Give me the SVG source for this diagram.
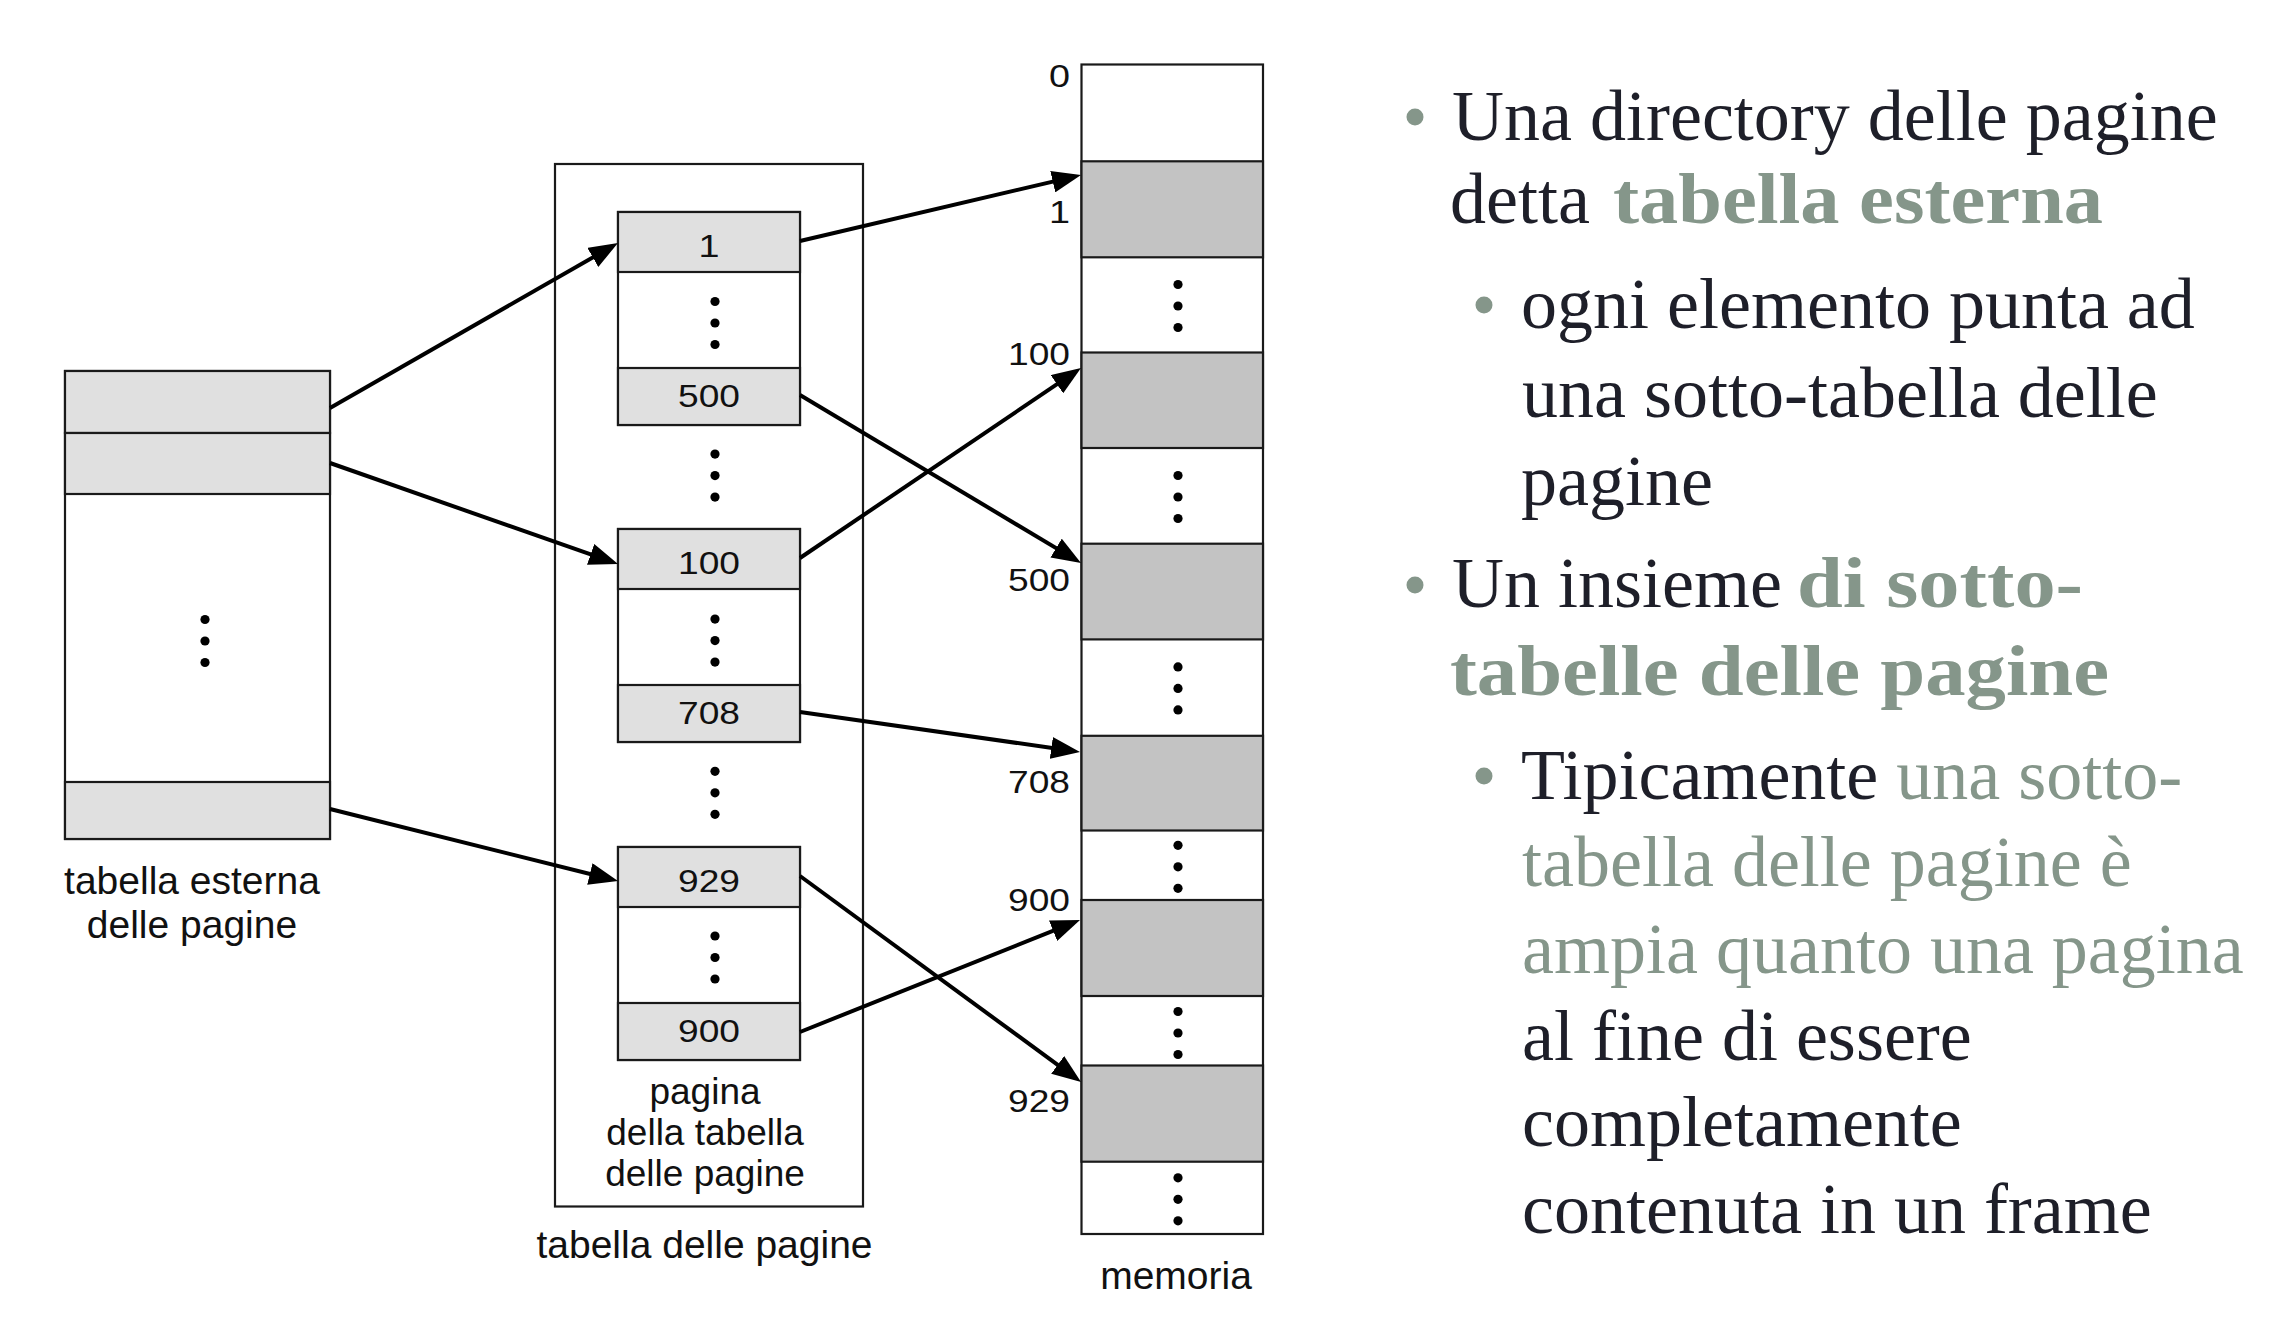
<svg xmlns="http://www.w3.org/2000/svg" xmlns:xlink="http://www.w3.org/1999/xlink" width="2294" height="1338" viewBox="0 0 2294 1338">
<style>
.box{fill:#ffffff;stroke:#1a1a1a;stroke-width:2.2}
.lt{fill:#e0e0e0;stroke:#1a1a1a;stroke-width:2.2}
.mg{fill:#c3c3c3;stroke:#1a1a1a;stroke-width:2.2}
.frame{fill:none;stroke:#1a1a1a;stroke-width:2.2}
.lbl{font-family:"Liberation Sans",Arial,Helvetica,sans-serif;font-size:39px;fill:#111}
.ilbl{font-family:"Liberation Sans",Arial,Helvetica,sans-serif;font-size:37px;fill:#111}
.num{font-family:"Liberation Sans",Arial,Helvetica,sans-serif;font-size:31px;fill:#111}
.conn{stroke:#000;stroke-width:4;fill:none;marker-end:url(#ah)}
.body{font-family:"Liberation Serif","Times New Roman",serif;font-size:72px;fill:#1e1f29}
.hl{fill:#85968a}
.b{font-weight:bold}
.bul{fill:#85968a}
</style>
<defs>
<marker id="ah" markerUnits="userSpaceOnUse" markerWidth="29" markerHeight="22" refX="22" refY="11" orient="auto">
<path d="M0,0 L29,11 L0,22 z" fill="#000"/>
</marker>
<g id="vdots">
<circle cx="0" cy="-21.5" r="4.6" fill="#000"/>
<circle cx="0" cy="0" r="4.6" fill="#000"/>
<circle cx="0" cy="21.5" r="4.6" fill="#000"/>
</g>
</defs>
<rect x="0" y="0" width="2294" height="1338" fill="#ffffff"/>

<g id="outer-table">
<rect class="box" x="65" y="371" width="265" height="468"/>
<rect class="lt" x="65" y="371" width="265" height="62"/>
<rect class="lt" x="65" y="433" width="265" height="61"/>
<rect class="lt" x="65" y="782" width="265" height="57"/>
<use xlink:href="#vdots" x="205" y="641"/>
<text class="lbl" x="192" y="894" text-anchor="middle">tabella esterna</text>
<text class="lbl" x="192" y="938" text-anchor="middle">delle pagine</text>
</g>

<g id="page-table">
<rect class="frame" x="555" y="164" width="308" height="1042.5"/>
<use xlink:href="#vdots" x="715" y="475.6"/>
<use xlink:href="#vdots" x="715" y="792.8"/>
<text class="ilbl" x="705" y="1104" text-anchor="middle">pagina</text>
<text class="ilbl" x="705" y="1145" text-anchor="middle">della tabella</text>
<text class="ilbl" x="705" y="1186" text-anchor="middle">delle pagine</text>
<text class="lbl" x="704.5" y="1258" text-anchor="middle">tabella delle pagine</text>
</g>

<g id="pt-a">
<rect class="box" x="618" y="212" width="182" height="213"/>
<rect class="lt" x="618" y="212" width="182" height="60"/>
<rect class="lt" x="618" y="368" width="182" height="57"/>
<text class="num" x="709" y="257" text-anchor="middle" textLength="21" lengthAdjust="spacingAndGlyphs">1</text>
<text class="num" x="709" y="407" text-anchor="middle" textLength="62" lengthAdjust="spacingAndGlyphs">500</text>
<use xlink:href="#vdots" x="715" y="323"/>
</g>

<g id="pt-b">
<rect class="box" x="618" y="529" width="182" height="213"/>
<rect class="lt" x="618" y="529" width="182" height="60"/>
<rect class="lt" x="618" y="685" width="182" height="57"/>
<text class="num" x="709" y="574" text-anchor="middle" textLength="62" lengthAdjust="spacingAndGlyphs">100</text>
<text class="num" x="709" y="724" text-anchor="middle" textLength="62" lengthAdjust="spacingAndGlyphs">708</text>
<use xlink:href="#vdots" x="715" y="640.6"/>
</g>

<g id="pt-c">
<rect class="box" x="618" y="847" width="182" height="213"/>
<rect class="lt" x="618" y="847" width="182" height="60"/>
<rect class="lt" x="618" y="1003" width="182" height="57"/>
<text class="num" x="709" y="892" text-anchor="middle" textLength="62" lengthAdjust="spacingAndGlyphs">929</text>
<text class="num" x="709" y="1042" text-anchor="middle" textLength="62" lengthAdjust="spacingAndGlyphs">900</text>
<use xlink:href="#vdots" x="715" y="957.5"/>
</g>

<g id="memory">
<rect class="box" x="1081.5" y="64.5" width="181.5" height="1169.5"/>
<rect class="mg" x="1081.5" y="161.3" width="181.5" height="96"/>
<rect class="mg" x="1081.5" y="352.5" width="181.5" height="95.5"/>
<rect class="mg" x="1081.5" y="543.7" width="181.5" height="95.7"/>
<rect class="mg" x="1081.5" y="735.8" width="181.5" height="94.7"/>
<rect class="mg" x="1081.5" y="900" width="181.5" height="96"/>
<rect class="mg" x="1081.5" y="1065.5" width="181.5" height="96.2"/>
<use xlink:href="#vdots" x="1178" y="306"/>
<use xlink:href="#vdots" x="1178" y="497"/>
<use xlink:href="#vdots" x="1178" y="688.4"/>
<use xlink:href="#vdots" x="1178" y="866.8"/>
<use xlink:href="#vdots" x="1178" y="1033"/>
<use xlink:href="#vdots" x="1178" y="1199.3"/>
<text class="num" x="1070" y="86.7" text-anchor="end" textLength="21" lengthAdjust="spacingAndGlyphs">0</text>
<text class="num" x="1070" y="222.7" text-anchor="end" textLength="21" lengthAdjust="spacingAndGlyphs">1</text>
<text class="num" x="1070" y="365" text-anchor="end" textLength="62" lengthAdjust="spacingAndGlyphs">100</text>
<text class="num" x="1070" y="591" text-anchor="end" textLength="62" lengthAdjust="spacingAndGlyphs">500</text>
<text class="num" x="1070" y="793" text-anchor="end" textLength="62" lengthAdjust="spacingAndGlyphs">708</text>
<text class="num" x="1070" y="911" text-anchor="end" textLength="62" lengthAdjust="spacingAndGlyphs">900</text>
<text class="num" x="1070" y="1112" text-anchor="end" textLength="62" lengthAdjust="spacingAndGlyphs">929</text>
<text class="lbl" x="1176" y="1289" text-anchor="middle">memoria</text>
</g>

<g id="connectors">
<line class="conn" x1="330" y1="408" x2="611.9" y2="246.5"/>
<line class="conn" x1="330" y1="463" x2="611.4" y2="561.7"/>
<line class="conn" x1="330" y1="809" x2="611.2" y2="879.3"/>
<line class="conn" x1="800" y1="241" x2="1074.2" y2="176.6"/>
<line class="conn" x1="800" y1="395" x2="1075" y2="559.4"/>
<line class="conn" x1="800" y1="558" x2="1075.2" y2="371.9"/>
<line class="conn" x1="800" y1="712" x2="1073.1" y2="751"/>
<line class="conn" x1="800" y1="876" x2="1075.4" y2="1077.9"/>
<line class="conn" x1="800" y1="1032" x2="1073.5" y2="922.6"/>
</g>

<g id="bullet-text">
<circle class="bul" cx="1415" cy="117" r="8.5"/>
<circle class="bul" cx="1484" cy="305" r="8.5"/>
<circle class="bul" cx="1415" cy="585" r="8.5"/>
<circle class="bul" cx="1484" cy="776" r="8.5"/>
<text class="body" x="1452" y="140">Una directory delle pagine</text>
<text class="body" x="1450" y="223">detta</text>
<text class="body hl b" x="1613" y="223" textLength="490" lengthAdjust="spacingAndGlyphs">tabella esterna</text>
<text class="body" x="1521" y="328">ogni elemento punta ad</text>
<text class="body" x="1522" y="417">una sotto-tabella delle</text>
<text class="body" x="1521" y="505">pagine</text>
<text class="body" x="1452" y="607">Un insieme</text>
<text class="body hl b" x="1797" y="607" textLength="286" lengthAdjust="spacingAndGlyphs">di sotto-</text>
<text class="body hl b" x="1450" y="695" textLength="659" lengthAdjust="spacingAndGlyphs">tabelle delle pagine</text>
<text class="body" x="1521" y="799">Tipicamente <tspan class="hl">una sotto-</tspan></text>
<text class="body hl" x="1522" y="886">tabella delle pagine è</text>
<text class="body hl" x="1522" y="973">ampia quanto una pagina</text>
<text class="body" x="1522" y="1060">al fine di essere</text>
<text class="body" x="1522" y="1146">completamente</text>
<text class="body" x="1522" y="1233">contenuta in un frame</text>
</g>
</svg>
